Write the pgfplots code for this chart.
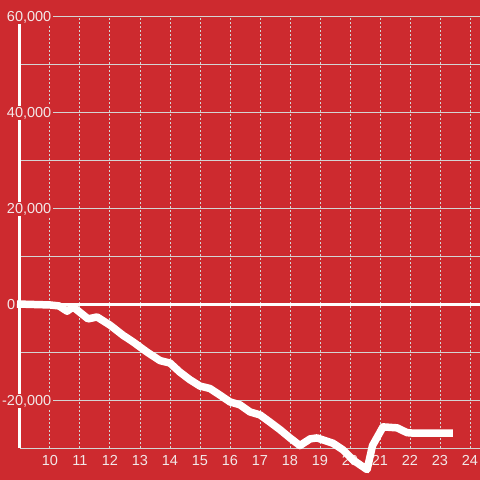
\documentclass[border=0pt]{standalone}
\usepackage{pgfplots}
\pgfplotsset{compat=1.18}
\usepackage{fontspec}
\setmainfont{Liberation Sans}
\definecolor{bg}{RGB}{205,42,47}
\definecolor{gridc}{RGB}{212,212,212}
\definecolor{lab}{RGB}{242,232,232}
\begin{document}
\begin{tikzpicture}[x=1pt,y=1pt]
\fill[bg] (0,0) rectangle (480,480);
\useasboundingbox (0,0) rectangle (480,480);
\begin{axis}[
  at={(20pt,32pt)}, anchor=south west,
  width=460pt, height=432pt, scale only axis,
  xmin=9, xmax=24.3333, ymin=-30000, ymax=60000,
  clip=false,
  scaled ticks=false,
  axis x line*=bottom, axis y line*=left,
  x axis line style={draw=none},
  y axis line style={draw=white, line width=3pt},
  major tick length=0pt, minor tick length=0pt,
  xtick={10,11,12,13,14,15,16,17,18,19,20,21,22,23,24},
  xticklabels={10,11,12,13,14,15,16,17,18,19,20,21,22,23,24},
  ytick={-20000,20000,40000,60000},
  yticklabels={{-20,000},{20,000},{40,000},{60,000}},
  minor ytick={-30000,-10000,10000,30000,50000},
  extra y ticks={0}, extra y tick labels={0},
  extra y tick style={yticklabel style={xshift=-36pt}},
  xmajorgrids, ymajorgrids, yminorgrids,
  x grid style={gridc, line width=1pt, dash pattern=on 2pt off 2pt},
  y grid style={gridc, line width=1pt},
  tick label style={font=\fontsize{14.5}{16}\selectfont, text=lab},
  yticklabel style={fill=bg, inner sep=1.5pt, anchor=east, xshift=33pt, yshift=-1pt},
  xticklabel style={anchor=north, inner sep=2pt, yshift=-5pt},
]
\addplot[white, line width=3pt] coordinates {(8.9,0) (24.3333,0)};
\addplot[white, line width=7.5pt, line join=round, line cap=butt] coordinates {
(8.9,0) (10.0,-200) (10.3,-400) (10.57,-1500) (10.77,-600) (11.27,-3100) (11.57,-2700)
(12.0,-4400) (12.43,-6500) (12.77,-7900) (13.23,-10000) (13.67,-11800)
(14.0,-12300) (14.33,-14200) (14.67,-15800) (15.0,-17100) (15.33,-17600)
(15.67,-19000) (16.0,-20400) (16.33,-21000) (16.67,-22500) (17.0,-23100)
(17.33,-24600) (17.67,-26200) (18.0,-27900) (18.33,-29500) (18.67,-28100)
(18.9,-27900) (19.43,-29000) (19.77,-30400) (20.1,-32500) (20.57,-34500)
(20.75,-29500) (21.1,-25600) (21.57,-25800) (21.9,-26800) (22.1,-26900) (23.43,-26900)};
\end{axis}
\end{tikzpicture}
\end{document}
